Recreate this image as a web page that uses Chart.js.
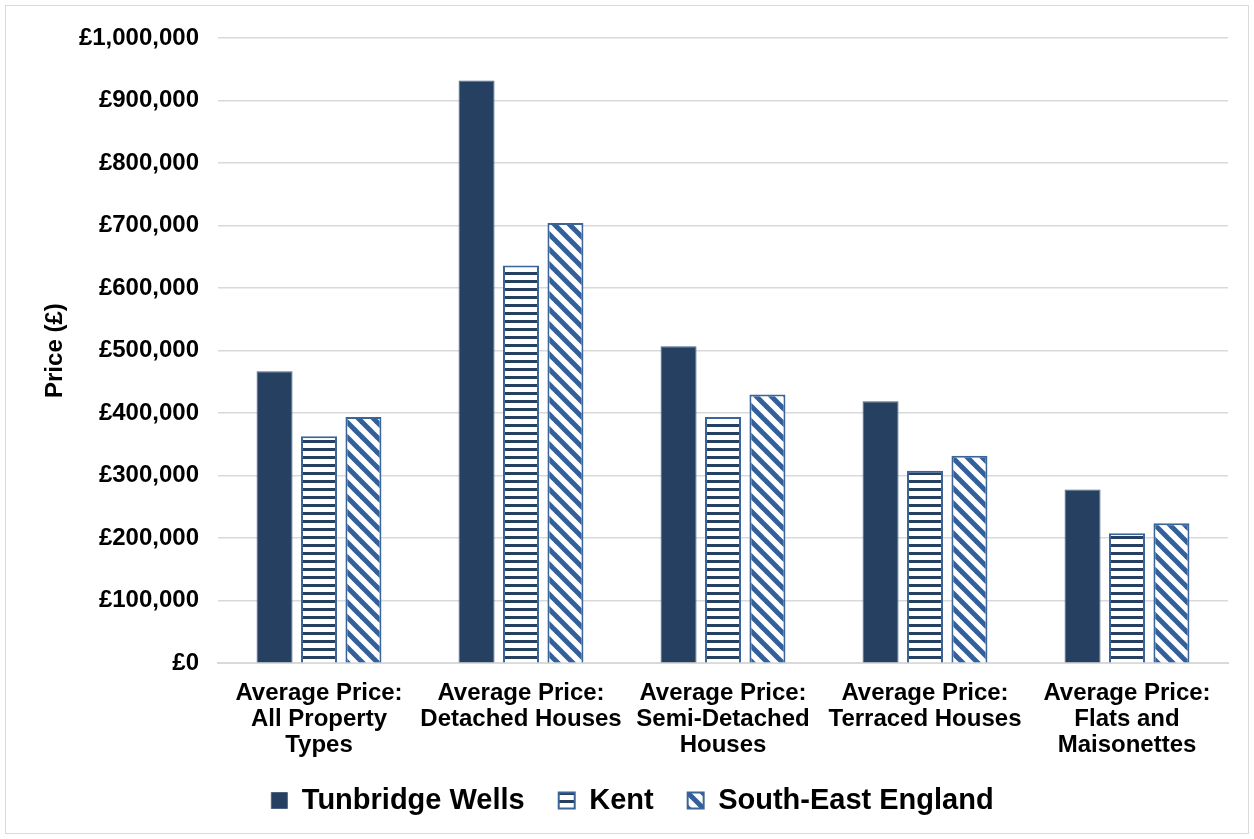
<!DOCTYPE html>
<html lang="en">
<head>
  <meta charset="UTF-8" />
  <title>Average Property Prices</title>
  <script src="https://cdn.jsdelivr.net/npm/chart.js"></script>
  <style>
    html, body { margin: 0; padding: 0; background: #fff; }
    #wrap { width: 1254px; height: 839px; position: relative; }
  </style>
</head>
<body>
  <div id="wrap"><canvas id="priceChart"></canvas></div>
  <script>
    const categories = [
      ['Average Price:', 'All Property', 'Types'],
      ['Average Price:', 'Detached Houses'],
      ['Average Price:', 'Semi-Detached', 'Houses'],
      ['Average Price:', 'Terraced Houses'],
      ['Average Price:', 'Flats and', 'Maisonettes']
    ];
    const tunbridgeWells = [467000, 932000, 507000, 419000, 278000];
    const kent = [363000, 636000, 394000, 308000, 208000];
    const southEast = [394000, 704000, 430000, 332000, 224000];
    const yTicks = [0, 100000, 200000, 300000, 400000, 500000, 600000, 700000, 800000, 900000, 1000000];

    const FONT = "'Liberation Sans', Arial, sans-serif";
    const NAVY = '#264062';
    const EDGE = '#3b6499';

    // horizontal stripes for Kent
    function stripePattern() {
      const c = document.createElement('canvas');
      c.width = 8; c.height = 8;
      const g = c.getContext('2d');
      g.fillStyle = '#fff';
      g.fillRect(0, 0, 8, 8);
      g.fillStyle = NAVY;
      g.fillRect(0, 0, 8, 3);
      return g.createPattern(c, 'repeat');
    }

    // wide downward diagonal for South-East
    function diagPattern() {
      const s = 15;
      const c = document.createElement('canvas');
      c.width = s; c.height = s;
      const g = c.getContext('2d');
      g.fillStyle = '#fff';
      g.fillRect(0, 0, s, s);
      g.strokeStyle = '#33609a';
      g.lineWidth = 5;
      for (const o of [-s, 0, s]) {
        g.beginPath();
        g.moveTo(o - 2, -2);
        g.lineTo(o + s + 2, s + 2);
        g.stroke();
      }
      return g.createPattern(c, 'repeat');
    }

    const framePlugin = {
      id: 'frame',
      beforeDraw(chart) {
        const ctx = chart.ctx;
        ctx.save();
        ctx.fillStyle = '#fff';
        ctx.fillRect(0, 0, chart.width, chart.height);
        ctx.strokeStyle = '#d9d9d9';
        ctx.lineWidth = 1;
        ctx.strokeRect(5.5, 5.5, chart.width - 11, chart.height - 11);
        ctx.restore();
      }
    };

    const ctx = document.getElementById('priceChart').getContext('2d');
    new Chart(ctx, {
      type: 'bar',
      data: {
        labels: categories,
        datasets: [
          {
            label: 'Tunbridge Wells',
            data: tunbridgeWells,
            backgroundColor: NAVY,
            borderColor: '#4a6284',
            borderWidth: 1
          },
          {
            label: 'Kent',
            data: kent,
            backgroundColor: stripePattern(),
            borderColor: EDGE,
            borderWidth: 2
          },
          {
            label: 'South-East England',
            data: southEast,
            backgroundColor: diagPattern(),
            borderColor: EDGE,
            borderWidth: 2
          }
        ]
      },
      options: {
        responsive: true,
        maintainAspectRatio: false,
        animation: false,
        datasets: {
          bar: { categoryPercentage: 0.66, barPercentage: 0.81 }
        },
        layout: { padding: { top: 38, right: 26, left: 37, bottom: 14 } },
        plugins: {
          tooltip: { enabled: false },
          legend: {
            position: 'bottom',
            labels: {
              color: '#000',
              font: { family: FONT, size: 29, weight: 'bold' },
              boxWidth: 16,
              boxHeight: 16,
              padding: 34
            }
          }
        },
        scales: {
          x: {
            grid: { display: false },
            border: { display: true, color: '#d9d9d9', width: 2 },
            afterFit: (scale) => {
              // tighten the gap above the legend, keep the third label line visible
              scale.height -= 15;
              scale._computeLabelArea = () => undefined;
            },
            ticks: {
              color: '#000',
              font: { family: FONT, size: 24, weight: 'bold', lineHeight: 1.08 },
              padding: 9,
              maxRotation: 0,
              autoSkip: false
            }
          },
          y: {
            min: 0,
            max: 1000000,
            afterBuildTicks: (scale) => { scale.ticks = yTicks.map(v => ({ value: v })); },
            afterFit: (scale) => { scale.width = 181; },
            grid: { color: '#d9d9d9', lineWidth: 1.5, drawTicks: false },
            border: { display: false },
            ticks: {
              color: '#000',
              font: { family: FONT, size: 24, weight: 'bold' },
              padding: 19,
              callback: (v) => '£' + Number(v).toLocaleString('en-GB')
            },
            title: {
              display: true,
              text: 'Price (£)',
              color: '#000',
              font: { family: FONT, size: 24, weight: 'bold' },
              padding: { top: 4, bottom: 8 }
            }
          }
        }
      },
      plugins: [framePlugin]
    });
  </script>
</body>
</html>
